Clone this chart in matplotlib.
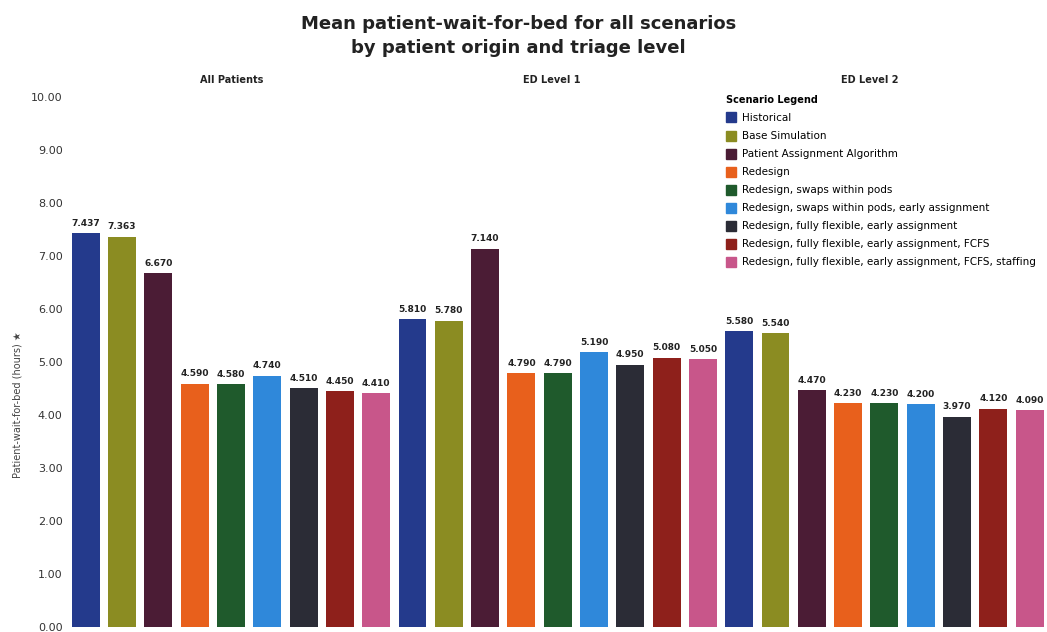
import numpy as np
import matplotlib.pyplot as plt

# mean wait (hours) per scenario, for each patient group
groups = ['All Patients', 'ED Level 1', 'ED Level 2']
scenarios = ['Historical', 'Base Simulation', 'Patient Assignment Algorithm', 'Redesign',
             'Redesign, swaps within pods', 'Redesign, swaps within pods, early assignment',
             'Redesign, fully flexible, early assignment',
             'Redesign, fully flexible, early assignment, FCFS',
             'Redesign, fully flexible, early assignment, FCFS, staffing']
all_patients = [7.437, 7.363, 6.670, 4.590, 4.580, 4.740, 4.510, 4.450, 4.410]
ed_level_1 = [5.810, 5.780, 7.140, 4.790, 4.790, 5.190, 4.950, 5.080, 5.050]
ed_level_2 = [5.580, 5.540, 4.470, 4.230, 4.230, 4.200, 3.970, 4.120, 4.090]
yticks = np.arange(0, 11, 1.0)

colors = ['#243a8c', '#8b8c22', '#4b1c35', '#e8601c', '#1f5a2c',
          '#2f88da', '#2b2c36', '#8e201b', '#c8568a']

W, H = 1047, 632
fig = plt.figure(figsize=(W / 100, H / 100), dpi=100)
ax = fig.add_axes([64 / W, 0, (W - 64) / W, (H - 97) / H])

data = [all_patients, ed_level_1, ed_level_2]
n = len(scenarios)
for g, vals in enumerate(data):
    x = np.arange(n) + g * n
    bars = ax.bar(x, vals, width=0.77, color=colors)
    for b, v in zip(bars, vals):
        ax.text(b.get_x() + b.get_width() / 2, v + 0.1, f'{v:.3f}', ha='center', va='bottom',
                fontsize=6.5, fontweight='bold', color='#222222')

ax.set_xlim(-0.6, -0.6 + (W - 64) / 36.3)
ax.set_ylim(-0.094, 10)
ax.set_yticks(yticks)
ax.set_yticklabels([f'{t:.2f}' for t in yticks], fontsize=8, color='#333333')
ax.tick_params(axis='y', length=0, pad=1)
ax.set_xticks([])
for s in ax.spines.values():
    s.set_visible(False)

# legend
handles = [plt.Rectangle((0, 0), 1, 1, color=c) for c in colors]
leg = ax.legend(handles, scenarios, loc='upper left', bbox_to_anchor=(726 / W, 1 - 95 / H),
                bbox_transform=fig.transFigure, frameon=False, fontsize=7.5,
                title='Scenario Legend', title_fontproperties={'weight': 'bold', 'size': 7},
                handlelength=1.0, handleheight=1.1, handletextpad=0.5, labelspacing=0.72,
                borderaxespad=0, borderpad=0)
leg._legend_box.align = 'left'

# group headings
for name, px in zip(groups, [232, 552, 870]):
    fig.text(px / W, 1 - 80 / H, name, ha='center', va='center', fontsize=7,
             fontweight='bold', color='#222222')

fig.text(0.495, 1 - 36 / H, 'Mean patient-wait-for-bed for all scenarios\nby patient origin and triage level',
         ha='center', va='center', fontsize=13, fontweight='bold', color='#222222',
         linespacing=1.4)

fig.text(18 / W, 1 - 405 / H, 'Patient-wait-for-bed (hours) \u2605', rotation=90,
         ha='center', va='center', fontsize=7, color='#444444')

fig.savefig('out.png', dpi=100)
